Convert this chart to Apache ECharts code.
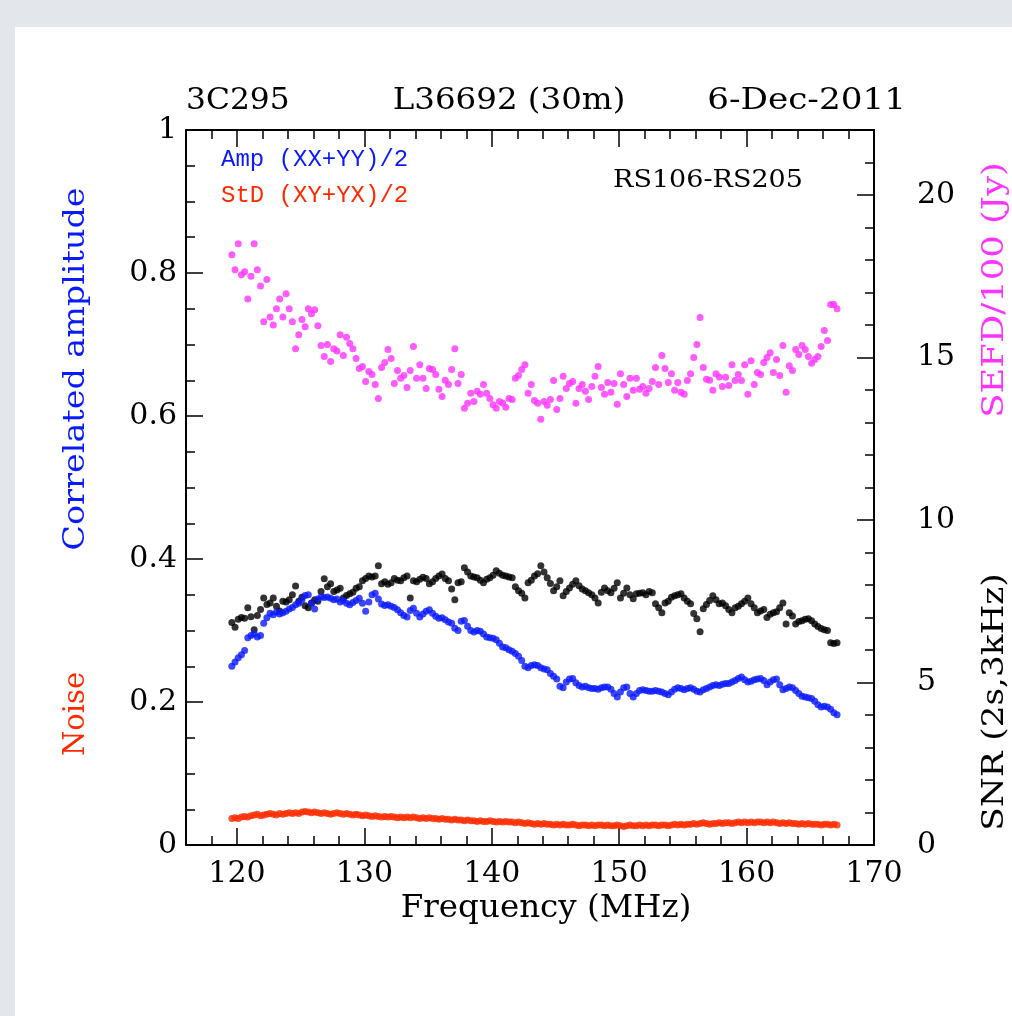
<!DOCTYPE html>
<html lang="en">
<head>
<meta charset="UTF-8"/>
<title>3C295 L36692</title>
<script src="https://cdn.jsdelivr.net/npm/echarts@6/dist/echarts.min.js"></script>
<style>
    html, body { margin: 0; padding: 0; background: #fff; }
    #main { width: 1012px; height: 1016px; }
</style>
</head>
<body>
<div id="main"></div>
<script>
// channel frequencies (MHz)
var freqs = [
    119.6,119.85,120.1,120.35,120.6,120.85,121.1,121.35,121.6,121.85,
    122.1,122.35,122.6,122.85,123.1,123.35,123.6,123.85,124.1,124.35,
    124.6,124.85,125.1,125.35,125.6,125.85,126.1,126.35,126.6,126.85,
    127.1,127.35,127.6,127.85,128.1,128.35,128.6,128.85,129.1,129.35,
    129.6,129.85,130.1,130.35,130.6,130.85,131.1,131.35,131.6,131.85,
    132.1,132.35,132.6,132.85,133.1,133.35,133.6,133.85,134.1,134.35,
    134.6,134.85,135.1,135.35,135.6,135.85,136.1,136.35,136.6,136.85,
    137.1,137.35,137.6,137.85,138.1,138.35,138.6,138.85,139.1,139.35,
    139.6,139.85,140.1,140.35,140.6,140.85,141.1,141.35,141.6,141.85,
    142.1,142.35,142.6,142.85,143.1,143.35,143.6,143.85,144.1,144.35,
    144.6,144.85,145.1,145.35,145.6,145.85,146.1,146.35,146.6,146.85,
    147.1,147.35,147.6,147.85,148.1,148.35,148.6,148.85,149.1,149.35,
    149.6,149.85,150.1,150.35,150.6,150.85,151.1,151.35,151.6,151.85,
    152.1,152.35,152.6,152.85,153.1,153.35,153.6,153.85,154.1,154.35,
    154.6,154.85,155.1,155.35,155.6,155.85,156.1,156.35,156.6,156.85,
    157.1,157.35,157.6,157.85,158.1,158.35,158.6,158.85,159.1,159.35,
    159.6,159.85,160.1,160.35,160.6,160.85,161.1,161.35,161.6,161.85,
    162.1,162.35,162.6,162.85,163.1,163.35,163.6,163.85,164.1,164.35,
    164.6,164.85,165.1,165.35,165.6,165.85,166.1,166.35,166.6,166.85,
    167.1
];

// Amp (XX+YY)/2, left axis
var ampXXYY = [
    0.250,0.256,0.262,0.266,0.272,0.290,0.293,0.295,0.291,0.293,
    0.310,0.318,0.324,0.322,0.326,0.323,0.325,0.327,0.330,0.332,
    0.336,0.338,0.343,0.349,0.350,0.338,0.330,0.344,0.347,0.346,
    0.347,0.345,0.343,0.344,0.340,0.342,0.338,0.336,0.339,0.342,
    0.345,0.338,0.327,0.340,0.350,0.352,0.344,0.337,0.335,0.336,
    0.334,0.332,0.329,0.325,0.321,0.319,0.328,0.331,0.324,0.319,
    0.323,0.327,0.329,0.324,0.320,0.317,0.318,0.315,0.312,0.310,
    0.303,0.300,0.313,0.314,0.306,0.300,0.298,0.300,0.299,0.295,
    0.291,0.290,0.289,0.287,0.282,0.277,0.276,0.273,0.271,0.268,
    0.264,0.258,0.250,0.248,0.251,0.252,0.251,0.248,0.246,0.245,
    0.240,0.236,0.232,0.222,0.220,0.228,0.232,0.233,0.227,0.223,
    0.221,0.222,0.220,0.219,0.219,0.218,0.220,0.221,0.221,0.218,
    0.212,0.207,0.214,0.220,0.221,0.212,0.207,0.212,0.216,0.217,
    0.216,0.215,0.215,0.216,0.215,0.214,0.212,0.210,0.214,0.218,
    0.220,0.219,0.217,0.219,0.220,0.218,0.215,0.214,0.217,0.219,
    0.221,0.223,0.224,0.223,0.225,0.226,0.226,0.228,0.230,0.233,
    0.235,0.231,0.228,0.229,0.231,0.232,0.233,0.230,0.224,0.228,
    0.231,0.232,0.224,0.217,0.219,0.221,0.220,0.216,0.212,0.208,
    0.207,0.206,0.205,0.201,0.196,0.193,0.194,0.193,0.190,0.185,
    0.182
];

// StD (XY+YX)/2, left axis
var stdXYYX = [
    0.037,0.038,0.037,0.039,0.040,0.039,0.041,0.042,0.043,0.041,
    0.042,0.043,0.044,0.043,0.042,0.044,0.043,0.044,0.045,0.044,
    0.045,0.044,0.046,0.047,0.046,0.045,0.046,0.045,0.044,0.045,
    0.044,0.043,0.044,0.045,0.044,0.043,0.044,0.043,0.042,0.043,
    0.042,0.041,0.042,0.041,0.040,0.041,0.040,0.039,0.040,0.039,
    0.040,0.039,0.038,0.039,0.038,0.039,0.038,0.039,0.038,0.037,
    0.038,0.037,0.038,0.037,0.037,0.036,0.037,0.036,0.036,0.035,
    0.036,0.035,0.035,0.034,0.035,0.034,0.034,0.033,0.034,0.033,
    0.033,0.034,0.033,0.032,0.033,0.032,0.033,0.032,0.032,0.031,
    0.032,0.031,0.030,0.031,0.030,0.029,0.030,0.029,0.030,0.029,
    0.029,0.028,0.029,0.028,0.029,0.028,0.028,0.029,0.028,0.027,
    0.028,0.028,0.027,0.028,0.027,0.028,0.028,0.027,0.028,0.027,
    0.027,0.028,0.027,0.026,0.027,0.028,0.027,0.027,0.028,0.027,
    0.028,0.027,0.028,0.028,0.027,0.028,0.028,0.027,0.028,0.029,
    0.028,0.029,0.028,0.029,0.029,0.030,0.029,0.030,0.031,0.030,
    0.029,0.030,0.030,0.031,0.030,0.031,0.031,0.030,0.031,0.032,
    0.031,0.032,0.031,0.032,0.031,0.032,0.032,0.031,0.032,0.031,
    0.032,0.031,0.030,0.031,0.030,0.031,0.030,0.030,0.029,0.030,
    0.029,0.030,0.029,0.029,0.029,0.028,0.029,0.029,0.028,0.029,
    0.028
];

// SNR (2s, 3kHz), right axis
var snr = [
    6.85,6.70,6.95,7.00,6.98,7.30,7.02,6.62,7.06,7.25,
    7.60,7.40,7.45,7.60,7.35,7.20,7.50,7.48,7.55,7.70,
    7.97,7.50,7.62,7.36,7.30,7.45,7.55,7.50,7.80,8.19,
    7.95,8.04,7.80,7.85,7.90,7.60,7.68,7.73,7.78,7.90,
    7.95,8.13,8.20,8.28,8.25,8.28,8.59,8.04,8.10,8.02,
    8.07,8.20,8.15,8.13,8.22,8.28,7.60,8.13,8.10,8.18,
    8.24,8.20,8.04,8.10,8.20,8.28,8.34,8.20,8.13,7.88,
    7.55,8.07,8.10,8.53,8.40,8.28,8.25,8.22,8.15,8.07,
    8.18,8.22,8.30,8.44,8.36,8.30,8.28,8.25,8.22,7.95,
    7.82,7.75,7.60,8.07,8.15,8.28,8.35,8.59,8.40,8.22,
    8.05,7.82,7.95,8.13,7.67,7.80,7.91,8.02,8.13,7.98,
    7.88,7.82,7.76,7.70,7.60,7.45,7.78,7.91,7.82,7.76,
    7.90,8.07,7.60,7.75,7.91,7.70,7.58,7.73,7.75,7.76,
    7.70,7.80,7.76,7.42,7.30,7.15,7.45,7.50,7.62,7.67,
    7.70,7.73,7.60,7.50,7.42,7.12,6.96,6.56,7.27,7.40,
    7.52,7.67,7.55,7.42,7.45,7.36,7.25,7.15,7.30,7.35,
    7.42,7.50,7.60,7.42,7.30,7.15,7.20,7.25,7.00,7.10,
    7.15,7.18,7.30,7.45,6.80,7.15,7.05,6.80,6.88,6.90,
    6.95,6.96,6.90,6.80,6.72,6.66,6.62,6.60,6.22,6.20,
    6.22
];

// SEFD/100 (Jy), right axis
var sefd = [
    18.16,17.70,18.50,17.55,17.64,16.80,17.50,18.50,17.70,17.20,
    16.10,17.40,16.25,16.00,16.50,16.80,16.25,16.96,16.50,16.10,
    15.27,15.70,16.17,15.95,16.50,16.35,16.47,15.98,15.37,15.03,
    15.40,14.88,15.27,15.20,15.70,15.06,15.62,15.43,15.27,14.97,
    14.66,14.72,14.26,14.57,14.48,14.17,13.74,14.69,14.85,15.25,
    14.97,14.20,14.60,14.36,14.45,14.08,14.60,15.34,14.36,14.78,
    14.36,14.05,14.66,14.63,14.48,14.02,13.80,14.30,14.17,14.63,
    15.27,14.20,14.48,13.44,13.59,13.90,13.65,13.96,13.87,14.17,
    13.90,13.74,13.55,13.44,13.65,13.60,13.47,13.74,13.71,14.36,
    14.45,14.63,14.78,13.90,14.17,13.68,13.59,13.10,13.65,13.53,
    13.71,14.29,13.40,13.74,14.42,14.05,14.20,14.26,13.59,14.05,
    14.17,13.96,13.71,14.11,14.42,14.72,14.08,13.87,14.23,13.93,
    14.20,13.56,14.50,14.17,13.80,14.36,13.99,14.36,14.02,14.11,
    13.90,14.05,14.26,14.69,14.17,15.06,14.66,14.23,14.50,13.99,
    14.23,13.93,13.87,14.29,14.50,15.00,15.40,16.23,14.69,14.33,
    14.30,13.99,14.50,14.40,14.11,14.39,14.14,14.78,14.29,14.48,
    14.29,14.78,13.87,14.90,14.17,14.54,14.48,14.85,15.00,15.15,
    14.54,14.94,14.45,15.37,13.93,14.75,14.60,15.25,15.09,15.37,
    15.25,15.03,14.82,14.94,15.03,15.34,15.83,15.52,16.63,16.63,
    16.50
];

var freqMajor = [120, 130, 140, 150, 160, 170];
var rightMajor = [0, 5, 10, 15, 20];

var SERIF = 'DejaVu Serif';
var MONO = 'Liberation Mono';

function pairs(xs, ys) {
    var out = [];
    for (var i = 0; i < xs.length; i++) out.push([xs[i], ys[i]]);
    return out;
}

var myChart = echarts.init(document.getElementById('main'));

var lineStyle = {color: '#000', width: 2};
var tickStyle = {color: '#000', width: 1.5};

function xAx(pos, major) {
    return {
        type: 'value', position: pos, min: 116, max: 170, interval: 2,
        axisLine: {show: !major, onZero: false, lineStyle: lineStyle},
        axisTick: major ? {inside: true, length: 17, customValues: freqMajor, lineStyle: tickStyle}
                        : {inside: true, length: 9, lineStyle: tickStyle},
        axisLabel: (pos === 'bottom' && !major)
            ? {customValues: freqMajor, color: '#000', fontFamily: SERIF, fontSize: 30, margin: 14}
            : {show: false},
        splitLine: {show: false}
    };
}

// text drawn in the page, sx stretches it along its own direction
function tx(text, x, y, color, size, align, family, rot, sx) {
    return {
        type: 'text', x: x, y: y, rotation: rot || 0, scaleX: sx || 1, z: 10,
        style: {
            text: text, fill: color, font: size + 'px "' + (family || SERIF) + '"',
            align: align || 'left', verticalAlign: 'middle',
            textAlign: align || 'left', textVerticalAlign: 'middle'
        }
    };
}

var option = {
    backgroundColor: '#fff',
    animation: false,
    grid: {left: 186, top: 130, width: 688, height: 715},
    xAxis: [xAx('bottom', false), xAx('top', false), xAx('bottom', true), xAx('top', true)],
    yAxis: [
        {
            type: 'value', position: 'left', min: 0, max: 1, interval: 0.2,
            axisLine: {show: true, onZero: false, lineStyle: lineStyle},
            axisTick: {inside: true, length: 17, lineStyle: tickStyle},
            minorTick: {show: true, splitNumber: 4, length: 9, lineStyle: tickStyle},
            axisLabel: {color: '#000', fontFamily: SERIF, fontSize: 30, margin: 9},
            splitLine: {show: false}, minorSplitLine: {show: false}
        },
        {
            type: 'value', position: 'right', min: 0, max: 22, interval: 1,
            axisLine: {show: true, onZero: false, lineStyle: lineStyle},
            axisTick: {inside: true, length: 9, lineStyle: tickStyle},
            axisLabel: {customValues: rightMajor, color: '#000', fontFamily: SERIF, fontSize: 30, margin: 43},
            splitLine: {show: false}
        },
        {
            type: 'value', position: 'right', min: 0, max: 22,
            axisLine: {show: false},
            axisTick: {inside: true, length: 17, customValues: rightMajor, lineStyle: tickStyle},
            axisLabel: {show: false},
            splitLine: {show: false}
        }
    ],
    series: [
        {name: 'SEFD', type: 'scatter', xAxisIndex: 0, yAxisIndex: 1, symbolSize: 7,
            itemStyle: {color: '#ff33ff'}, data: pairs(freqs, sefd)},
        {name: 'SNR', type: 'scatter', xAxisIndex: 0, yAxisIndex: 1, symbolSize: 7,
            itemStyle: {color: '#000'}, data: pairs(freqs, snr)},
        {name: 'Amp', type: 'scatter', xAxisIndex: 0, yAxisIndex: 0, symbolSize: 7,
            itemStyle: {color: '#0a1aff'}, data: pairs(freqs, ampXXYY)},
        {name: 'StD', type: 'scatter', xAxisIndex: 0, yAxisIndex: 0, symbolSize: 7,
            itemStyle: {color: '#ff2a00'}, data: pairs(freqs, stdXYYX)}
    ],
    graphic: [
        // slide background edges
        {type: 'rect', shape: {x: 0, y: 0, width: 1012, height: 27}, style: {fill: '#e3e6eb'}, z: -10},
        {type: 'rect', shape: {x: 0, y: 0, width: 15, height: 1016}, style: {fill: '#e3e6eb'}, z: -10},
        tx('3C295', 186, 101, '#000', 29, 'left', SERIF, 0, 1.08),
        tx('L36692 (30m)', 509, 101, '#000', 29, 'center', SERIF, 0, 1.12),
        tx('6-Dec-2011', 906, 101, '#000', 29, 'right', SERIF, 0, 1.18),
        tx('Frequency (MHz)', 546, 909, '#000', 31, 'center', SERIF, 0, 1.05),
        tx('Amp (XX+YY)/2', 221, 160, '#0a1aff', 24, 'left', MONO),
        tx('StD (XY+YX)/2', 221, 196, '#ff2a00', 24, 'left', MONO),
        tx('RS106-RS205', 708, 180, '#000', 25, 'center', SERIF, 0, 1.08),
        tx('Correlated amplitude', 76, 369, '#0a1aff', 29, 'center', SERIF, Math.PI / 2, 1.15),
        tx('Noise', 76, 714, '#ff2a00', 29, 'center', SERIF, Math.PI / 2),
        tx('SEFD/100 (Jy)', 995, 290, '#ff33ff', 29, 'center', SERIF, Math.PI / 2, 1.22),
        tx('SNR (2s,3kHz)', 995, 702, '#000', 29, 'center', SERIF, Math.PI / 2, 1.18)
    ]
};

myChart.setOption(option);
</script>
</body>
</html>
